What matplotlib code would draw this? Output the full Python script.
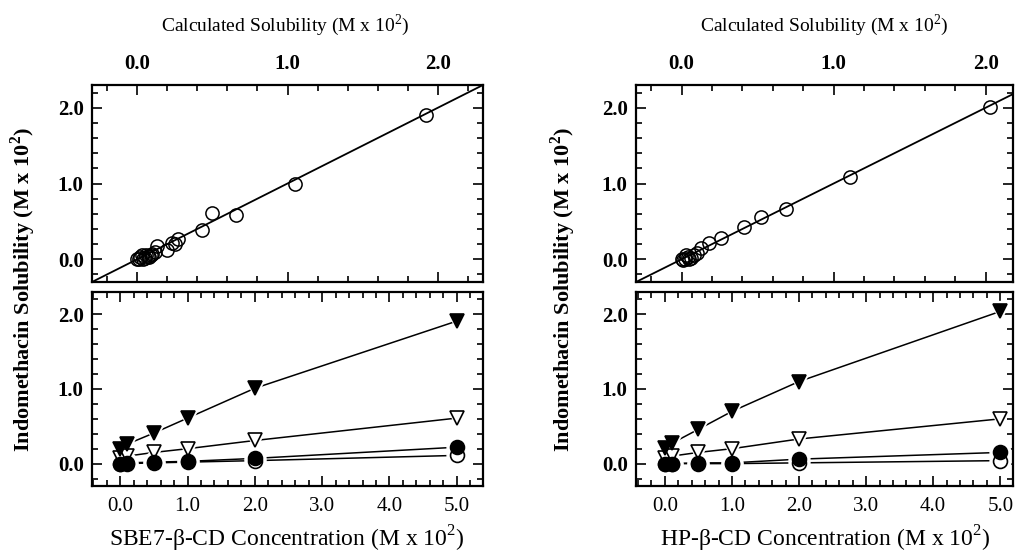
import matplotlib
matplotlib.use("Agg")
import matplotlib.pyplot as plt
from matplotlib.ticker import MultipleLocator, FormatStrFormatter

plt.rcParams["font.family"] = ["Liberation Serif", "DejaVu Serif"]
plt.rcParams["mathtext.fontset"] = "custom"
plt.rcParams["mathtext.rm"] = "Liberation Serif"
plt.rcParams["mathtext.bf"] = "Liberation Serif:bold"

# top panels: observed vs calculated solubility (M x 10^2)
sbe_calc = [0.00, 0.01, 0.02, 0.04, 0.05, 0.06, 0.07, 0.08, 0.09, 0.10, 0.03,
            0.12, 0.135, 0.20, 0.235, 0.25, 0.27, 0.43, 0.50, 0.66, 1.05, 1.92]
sbe_obs = [0.00, 0.01, 0.03, 0.01, 0.02, 0.05, 0.04, 0.03, 0.05, 0.07, 0.06,
           0.09, 0.17, 0.12, 0.22, 0.20, 0.27, 0.38, 0.61, 0.59, 1.00, 1.90]
hp_calc = [0.00, 0.01, 0.02, 0.04, 0.05, 0.06, 0.08, 0.10, 0.03, 0.13, 0.18,
           0.26, 0.41, 0.52, 0.69, 1.11, 2.03]
hp_obs = [0.00, -0.01, 0.01, 0.03, 0.01, 0.02, 0.05, 0.08, 0.06, 0.15, 0.22,
          0.28, 0.43, 0.56, 0.67, 1.09, 2.01]

# bottom panels: solubility vs cyclodextrin concentration (M x 10^2)
cd_conc = [0.0, 0.1, 0.5, 1.0, 2.0, 5.0]
sbe_tri_filled = [0.20, 0.26, 0.41, 0.61, 1.01, 1.91]
sbe_tri_open = [0.07, 0.10, 0.15, 0.20, 0.31, 0.61]
sbe_circ_filled = [0.00, 0.01, 0.02, 0.03, 0.07, 0.22]
sbe_circ_open = [0.00, 0.00, 0.01, 0.02, 0.04, 0.11]
hp_tri_filled = [0.21, 0.27, 0.46, 0.70, 1.10, 2.04]
hp_tri_open = [0.08, 0.10, 0.15, 0.20, 0.33, 0.60]
hp_circ_filled = [0.00, 0.00, 0.01, 0.01, 0.06, 0.15]
hp_circ_open = [0.00, 0.00, 0.00, 0.00, 0.01, 0.04]

W, H = 1019, 559


def px_box(left, top, right, bottom):
    return [left / W, 1 - bottom / H, (right - left) / W, (bottom - top) / H]


def style_axes(ax, xmajor):
    ax.xaxis.set_major_locator(MultipleLocator(xmajor))
    ax.xaxis.set_minor_locator(MultipleLocator(0.2))
    ax.yaxis.set_major_locator(MultipleLocator(1.0))
    ax.yaxis.set_minor_locator(MultipleLocator(0.2))
    ax.xaxis.set_major_formatter(FormatStrFormatter("%.1f"))
    ax.yaxis.set_major_formatter(FormatStrFormatter("%.1f"))
    ax.tick_params(which="both", direction="in", top=True, right=True, width=1.2)
    ax.tick_params(which="major", length=7)
    ax.tick_params(which="minor", length=4)
    ax.tick_params(axis="y", pad=6, labelsize=15)
    for lab in ax.get_yticklabels():
        lab.set_fontweight("bold")
    for s in ax.spines.values():
        s.set_linewidth(1.6)
    ax.set_ylim(-0.3, 2.3)


def top_panel(ax, calc, obs, xmax):
    ax.axline((0, 0), slope=1, color="k", lw=1.3, zorder=1)
    ax.plot(calc, obs, ls="none", marker="o", ms=9.5, mfc="none", mec="k", mew=1.1, zorder=3)
    ax.set_xlim(-0.3, xmax)
    style_axes(ax, 1.0)
    ax.tick_params(axis="x", labelbottom=False, labeltop=True, pad=8, labelsize=15)
    for lab in ax.get_xticklabels():
        lab.set_fontweight("bold")


def series(ax, x, y, marker, filled, z):
    # white halo under each marker leaves the gaps in the connecting line
    ax.plot(x, y, ls="-", color="k", lw=1.1, zorder=1)
    ax.plot(x, y, ls="none", marker=marker, ms=15, mfc="white", mec="white", zorder=2)
    ax.plot(x, y, ls="none", marker=marker, ms=10, mfc="k" if filled else "white",
            mec="k", mew=1.2, zorder=z)


def bottom_panel(ax, tf, to, cf, co, xmin, xmax):
    series(ax, cd_conc, co, "o", False, 3)
    series(ax, cd_conc, to, "v", False, 4)
    series(ax, cd_conc, cf, "o", True, 5)
    series(ax, cd_conc, tf, "v", True, 6)
    ax.set_xlim(xmin, xmax)
    style_axes(ax, 1.0)
    ax.tick_params(axis="x", pad=8, labelsize=15)


fig = plt.figure(figsize=(W / 100, H / 100), dpi=100)

ax1 = fig.add_axes(px_box(92, 85, 483, 282))
ax2 = fig.add_axes(px_box(92, 292, 483, 486))
ax3 = fig.add_axes(px_box(636, 85, 1013, 282))
ax4 = fig.add_axes(px_box(636, 292, 1013, 486))

top_panel(ax1, sbe_calc, sbe_obs, 2.3)
top_panel(ax3, hp_calc, hp_obs, 2.18)
bottom_panel(ax2, sbe_tri_filled, sbe_tri_open, sbe_circ_filled, sbe_circ_open, -0.42, 5.39)
bottom_panel(ax4, hp_tri_filled, hp_tri_open, hp_circ_filled, hp_circ_open, -0.43, 5.19)

title = r"Calculated Solubility (M x 10$^2$)"
ylab = r"Indomethacin Solubility (M x 10$^{\mathbf{2}}$)"
fig.text(285 / W, 1 - 25 / H, title, ha="center", va="center", fontsize=14)
fig.text(824 / W, 1 - 25 / H, title, ha="center", va="center", fontsize=14)
fig.text(23 / W, 1 - 290 / H, ylab, ha="center", va="center", rotation=90,
         fontsize=16, fontweight="bold")
fig.text(563 / W, 1 - 290 / H, ylab, ha="center", va="center", rotation=90,
         fontsize=16, fontweight="bold")
fig.text(287 / W, 1 - 539 / H, "SBE7-\u03b2-CD Concentration (M x 10$^2$)",
         ha="center", va="center", fontsize=17)
fig.text(825 / W, 1 - 539 / H, "HP-\u03b2-CD Concentration (M x 10$^2$)",
         ha="center", va="center", fontsize=17)

fig.savefig("out.png", dpi=100)
